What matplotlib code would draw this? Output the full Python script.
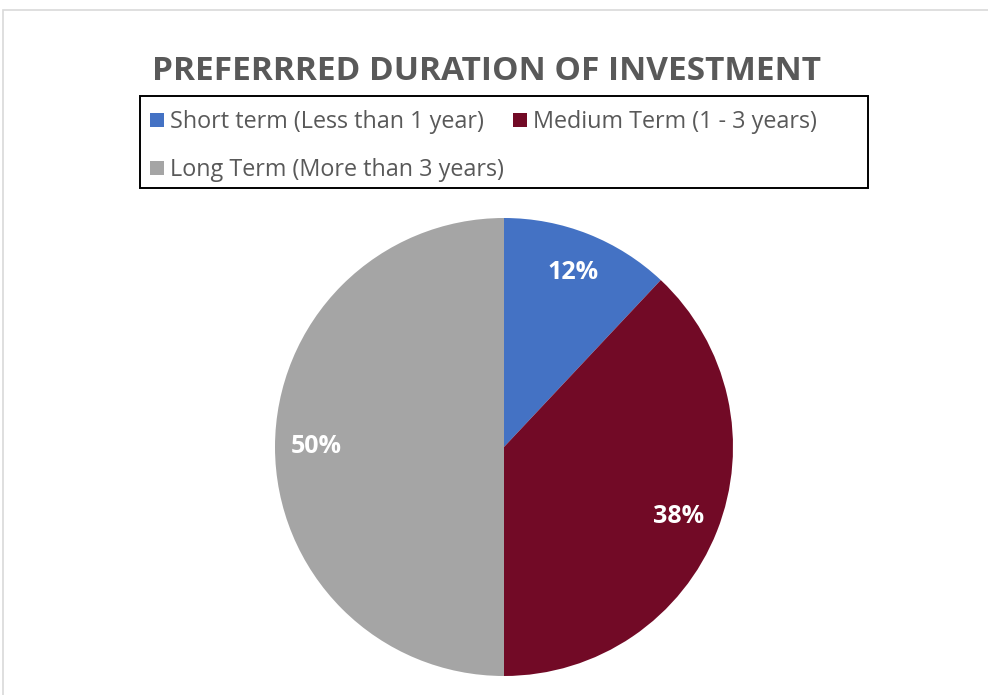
import matplotlib
matplotlib.use("Agg")
import matplotlib.pyplot as plt
from matplotlib.patches import Rectangle

categories = ["Short term (Less than 1 year)", "Medium Term (1 - 3 years)", "Long Term (More than 3 years)"]
values = [12, 38, 50]
colors = ["#4472C4", "#720A26", "#A5A5A5"]
title = "PREFERRRED DURATION OF INVESTMENT"

W, H = 988, 695
fig = plt.figure(figsize=(W / 100, H / 100), dpi=100)
fig.patch.set_facecolor("white")


def fx(x):
    return x / W


def fy(y):
    return 1 - y / H


# outer frame
fig.patches.append(Rectangle((fx(3), -0.1), 1.2, (H - 10) / H + 0.1, transform=fig.transFigure,
                             fill=False, edgecolor="#D9D9D9", linewidth=1.2))

cx, cy, r = 504, 447, 229
ax = fig.add_axes([(cx - r) / W, (H - cy - r) / H, 2 * r / W, 2 * r / H])
wedges, texts, autotexts = ax.pie(values, colors=colors, startangle=90, counterclock=False,
                                  autopct=lambda p: f"{p:.0f}%", pctdistance=0.82,
                                  radius=1.0, wedgeprops=dict(linewidth=0),
                                  textprops=dict(color="white", fontsize=18, fontweight="bold",
                                                 family="Open Sans"))
ax.set_xlim(-1, 1)
ax.set_ylim(-1, 1)
ax.set_aspect("equal")

fig.text(fx(486), fy(72), title, ha="center", va="center", fontsize=24, fontweight="bold",
         color="#595959", family="Open Sans")

# legend (drawn manually to match layout)
fig.patches.append(Rectangle((fx(139.5), fy(187.5)), (868 - 139.5) / W, (187.5 - 96) / H,
                             transform=fig.transFigure, fill=False, edgecolor="black",
                             linewidth=1.4))
slots = [(150, 120), (513, 120), (150, 168)]
sq = 14
for (lx, ly), lab, col in zip(slots, categories, colors):
    fig.patches.append(Rectangle((fx(lx), fy(ly + sq / 2)), sq / W, sq / H,
                                 transform=fig.transFigure, facecolor=col, edgecolor="none"))
    fig.text(fx(lx + sq + 6), fy(ly + 2), lab, ha="left", va="center", fontsize=16.8,
             color="#595959", family="Open Sans")

fig.savefig("out.png", dpi=100)
